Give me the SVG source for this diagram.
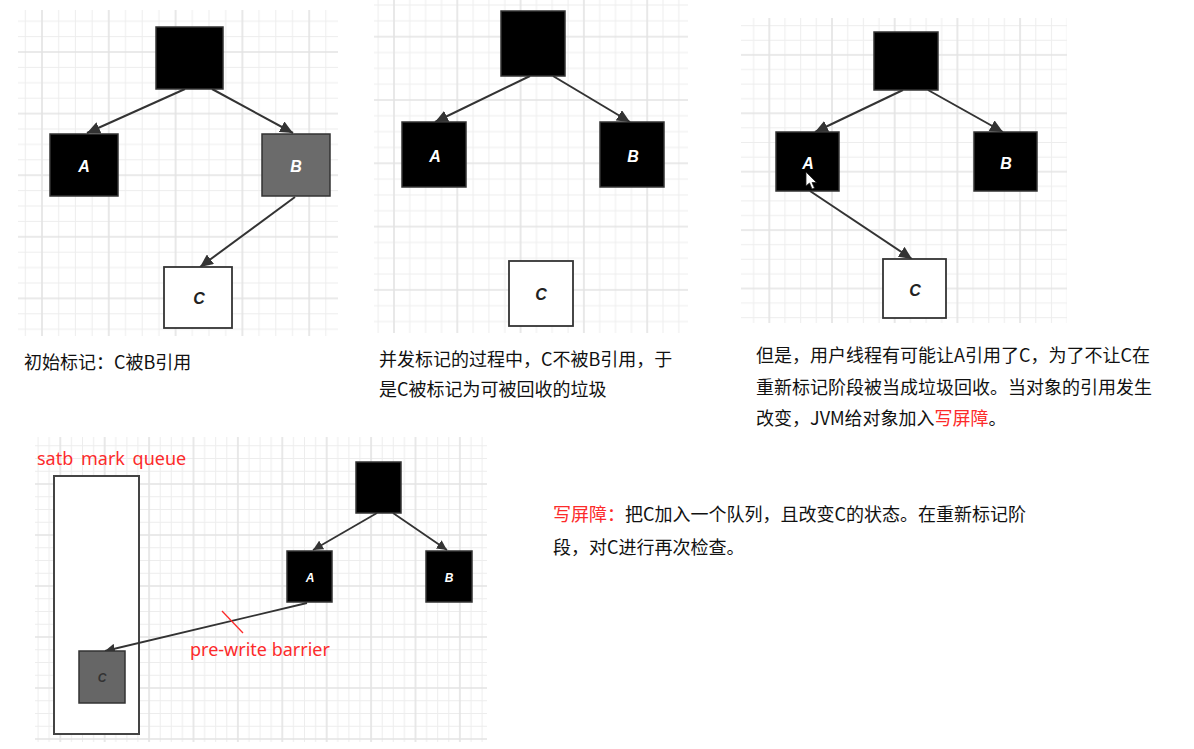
<svg xmlns="http://www.w3.org/2000/svg" width="1194" height="749" viewBox="0 0 1194 749">
<style>
.minor{stroke:#ededed;stroke-width:1}
.major{stroke:#e3e3e3;stroke-width:1.6}
.blk{fill:#000;stroke:#333;stroke-width:1.5}
.gray{fill:#6b6b6b;stroke:#333;stroke-width:1.5}
.wht{fill:#fff;stroke:#333;stroke-width:1.8}
.lbl{font-family:"Liberation Sans",Arial,sans-serif;font-weight:bold;font-style:italic;text-anchor:middle}
.lw{fill:#fff}
.ld{fill:#222}
.edge{stroke:#333;stroke-width:2;fill:none}
.edge2{stroke:#333;stroke-width:1.8;fill:none}
.cap{font-family:"Noto Sans CJK SC","Noto Sans",sans-serif;font-size:18px;fill:#111}
.red{fill:#fc2b2b}
.en{font-family:"Noto Sans","Liberation Sans",sans-serif;font-size:18px;fill:#fc2b2b}
</style>
<defs>
<marker id="ah" markerUnits="userSpaceOnUse" markerWidth="14" markerHeight="12" refX="13" refY="6" orient="auto">
<path d="M0,0 L13,6 L0,12 Z" fill="#333"/>
</marker>
<marker id="ahs" markerUnits="userSpaceOnUse" markerWidth="11" markerHeight="10" refX="10" refY="5" orient="auto">
<path d="M0,0 L10,5 L0,10 Z" fill="#333"/>
</marker>
<pattern id="g1" patternUnits="userSpaceOnUse" x="41" y="51" width="66.8" height="61.6">
<line class="minor" x1="17.7" y1="0" x2="17.7" y2="61.6"/><line class="minor" x1="34.4" y1="0" x2="34.4" y2="61.6"/><line class="minor" x1="51.1" y1="0" x2="51.1" y2="61.6"/>
<line class="minor" x1="0" y1="16.4" x2="66.8" y2="16.4"/><line class="minor" x1="0" y1="31.8" x2="66.8" y2="31.8"/><line class="minor" x1="0" y1="47.2" x2="66.8" y2="47.2"/>
<line class="major" x1="1" y1="0" x2="1" y2="61.6"/><line class="major" x1="0" y1="1" x2="66.8" y2="1"/>
</pattern>
<pattern id="g2" patternUnits="userSpaceOnUse" x="393" y="35.7" width="63.3" height="63.3">
<line class="minor" x1="16.8" y1="0" x2="16.8" y2="63.3"/><line class="minor" x1="32.6" y1="0" x2="32.6" y2="63.3"/><line class="minor" x1="48.5" y1="0" x2="48.5" y2="63.3"/>
<line class="minor" x1="0" y1="16.8" x2="63.3" y2="16.8"/><line class="minor" x1="0" y1="32.6" x2="63.3" y2="32.6"/><line class="minor" x1="0" y1="48.5" x2="63.3" y2="48.5"/>
<line class="major" x1="1" y1="0" x2="1" y2="63.3"/><line class="major" x1="0" y1="1" x2="63.3" y2="1"/>
</pattern>
<pattern id="g3" patternUnits="userSpaceOnUse" x="768.3" y="53.9" width="62.7" height="58.4">
<line class="minor" x1="16.7" y1="0" x2="16.7" y2="58.4"/><line class="minor" x1="32.4" y1="0" x2="32.4" y2="58.4"/><line class="minor" x1="48" y1="0" x2="48" y2="58.4"/>
<line class="minor" x1="0" y1="15.6" x2="62.7" y2="15.6"/><line class="minor" x1="0" y1="30.2" x2="62.7" y2="30.2"/><line class="minor" x1="0" y1="44.8" x2="62.7" y2="44.8"/>
<line class="major" x1="1" y1="0" x2="1" y2="58.4"/><line class="major" x1="0" y1="1" x2="62.7" y2="1"/>
</pattern>
<pattern id="g4" patternUnits="userSpaceOnUse" x="14.9" y="24" width="44.4" height="51">
<line class="minor" x1="12.1" y1="0" x2="12.1" y2="51"/><line class="minor" x1="23.2" y1="0" x2="23.2" y2="51"/><line class="minor" x1="34.3" y1="0" x2="34.3" y2="51"/>
<line class="minor" x1="0" y1="13.75" x2="44.4" y2="13.75"/><line class="minor" x1="0" y1="26.5" x2="44.4" y2="26.5"/><line class="minor" x1="0" y1="39.25" x2="44.4" y2="39.25"/>
<line class="major" x1="1" y1="0" x2="1" y2="51"/><line class="major" x1="0" y1="1" x2="44.4" y2="1"/>
</pattern>
</defs>
<rect width="1194" height="749" fill="#fff"/>
<g id="grids">
<rect x="18" y="10" width="320" height="326" fill="url(#g1)"/>
<rect x="374" y="0" width="314" height="333" fill="url(#g2)"/>
<rect x="741" y="18" width="326" height="305" fill="url(#g3)"/>
<rect x="35" y="437" width="452" height="305" fill="url(#g4)"/>
</g>
<g id="queue"><rect x="54" y="476" width="85" height="258" fill="#fff" stroke="#444" stroke-width="2"/></g>
<g id="connectors">
<line class="edge" x1="185" y1="89" x2="87" y2="133" marker-end="url(#ah)"/>
<line class="edge" x1="212" y1="89" x2="293" y2="133" marker-end="url(#ah)"/>
<line class="edge" x1="295" y1="197" x2="200" y2="267" marker-end="url(#ah)"/>
<line class="edge" x1="530" y1="76" x2="435" y2="122" marker-end="url(#ah)"/>
<line class="edge" x1="553" y1="76" x2="630" y2="122" marker-end="url(#ah)"/>
<line class="edge" x1="903" y1="90" x2="815" y2="132" marker-end="url(#ah)"/>
<line class="edge" x1="928" y1="90" x2="1003" y2="132" marker-end="url(#ah)"/>
<line class="edge" x1="810" y1="191" x2="912" y2="259" marker-end="url(#ah)"/>
<line class="edge2" x1="377" y1="513" x2="313" y2="550" marker-end="url(#ahs)"/>
<line class="edge2" x1="393" y1="513" x2="447" y2="550" marker-end="url(#ahs)"/>
<line class="edge2" x1="307" y1="603" x2="105" y2="651" marker-end="url(#ahs)"/>
<line x1="222" y1="611" x2="243" y2="633" stroke="#fc2b2b" stroke-width="1.3"/>
</g>
<g id="p1-root"><rect class="blk" x="156" y="27" width="67" height="62"/></g>
<g id="p1-A"><rect class="blk" x="50" y="134" width="68" height="62"/><text class="lbl lw" x="84" y="172" font-size="16">A</text></g>
<g id="p1-B"><rect class="gray" x="262" y="134" width="68" height="62"/><text class="lbl lw" x="296" y="172" font-size="16">B</text></g>
<g id="p1-C"><rect class="wht" x="164" y="267" width="68" height="61"/><text class="lbl ld" x="199" y="304" font-size="16">C</text></g>
<text class="cap" x="24" y="369">初始标记：C被B引用</text>

<g id="p2-root"><rect class="blk" x="501" y="11" width="64" height="65"/></g>
<g id="p2-A"><rect class="blk" x="402" y="122" width="64" height="65"/><text class="lbl lw" x="435" y="162" font-size="16">A</text></g>
<g id="p2-B"><rect class="blk" x="600" y="122" width="64" height="65"/><text class="lbl lw" x="633" y="162" font-size="16">B</text></g>
<g id="p2-C"><rect class="wht" x="509" y="261" width="64" height="65"/><text class="lbl ld" x="541" y="300" font-size="16">C</text></g>
<text class="cap" x="379" y="366">并发标记的过程中，C不被B引用，于</text>
<text class="cap" x="379" y="396">是C被标记为可被回收的垃圾</text>

<g id="p3-root"><rect class="blk" x="874" y="32" width="64" height="58"/></g>
<g id="p3-A"><rect class="blk" x="776" y="132" width="63" height="59"/><text class="lbl lw" x="808" y="169" font-size="16">A</text>
<polygon points="806,172 806,186 809.5,183 812,189 814.5,188 812,182.5 816.5,182.5" fill="#fff" stroke="#222" stroke-width="0.8"/></g>
<g id="p3-B"><rect class="blk" x="974" y="132" width="63" height="59"/><text class="lbl lw" x="1006" y="169" font-size="16">B</text></g>
<g id="p3-C"><rect class="wht" x="883" y="259" width="63" height="59"/><text class="lbl ld" x="915" y="296" font-size="16">C</text></g>
<text class="cap" x="756" y="362">但是，用户线程有可能让A引用了C，为了不让C在</text>
<text class="cap" x="756" y="394">重新标记阶段被当成垃圾回收。当对象的引用发生</text>
<text class="cap" x="756" y="425">改变，JVM给对象加入<tspan class="red">写屏障</tspan>。</text>

<text class="en" x="37" y="465" word-spacing="3">satb mark queue</text>
<g id="p4-root"><rect class="blk" x="356" y="462" width="45" height="51"/></g>
<g id="p4-A"><rect class="blk" x="287" y="551" width="45" height="51"/><text class="lbl lw" x="310" y="582" font-size="12">A</text></g>
<g id="p4-B"><rect class="blk" x="426" y="551" width="46" height="51"/><text class="lbl lw" x="449" y="582" font-size="12">B</text></g>
<g id="p4-C"><rect x="79" y="651" width="46" height="52" fill="#666" stroke="#333" stroke-width="1.5"/><text class="lbl" x="102" y="682" font-size="12" fill="#333">C</text></g>
<text class="en" x="190" y="656">pre-write barrier</text>

<text class="cap" x="553" y="521"><tspan class="red">写屏障：</tspan>把C加入一个队列，且改变C的状态。在重新标记阶</text>
<text class="cap" x="553" y="554">段，对C进行再次检查。</text>
</svg>
